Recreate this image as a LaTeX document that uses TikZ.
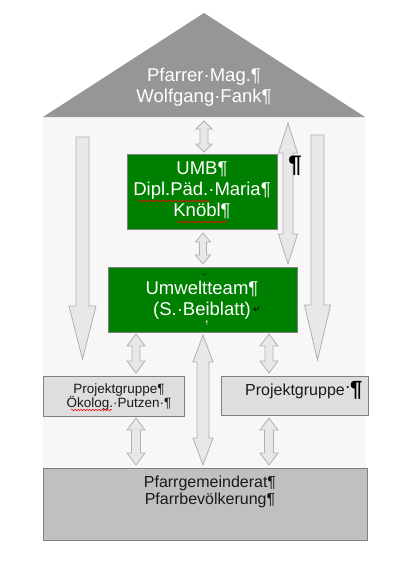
\documentclass[tikz,border=0pt]{standalone}
\usepackage{fontspec}
\setmainfont{Liberation Sans}
\newfontfamily\dejavu{DejaVu Sans}
\usetikzlibrary{decorations.pathmorphing}
\definecolor{roofgray}{HTML}{969696}
\definecolor{bodygray}{HTML}{F7F7F7}
\definecolor{umbgreen}{HTML}{008000}
\definecolor{edgegray}{HTML}{808080}
\definecolor{arrfill}{HTML}{E8E8E8}
\definecolor{arredge}{HTML}{B0B0B0}
\definecolor{pgfill}{HTML}{DEDEDE}
\definecolor{basefill}{HTML}{C0C0C0}
\definecolor{txtdark}{HTML}{1A1A1A}
\newcommand\dbarr[6]{% cx, ytop, ybot, half shaft, half head, head length
  \draw[arr] (#1-#4,#2+#6) -- (#1-#5,#2+#6) -- (#1,#2) -- (#1+#5,#2+#6) -- (#1+#4,#2+#6)
    -- (#1+#4,#3-#6) -- (#1+#5,#3-#6) -- (#1,#3) -- (#1-#5,#3-#6) -- (#1-#4,#3-#6) -- cycle;}
\newcommand\dnarr[6]{% cx, ytop, ytip, half shaft, half head, head length
  \draw[arr] (#1-#4,#2) -- (#1+#4,#2) -- (#1+#4,#3-#6) -- (#1+#5,#3-#6) -- (#1,#3)
    -- (#1-#5,#3-#6) -- (#1-#4,#3-#6) -- cycle;}
\begin{document}
\begin{tikzpicture}[x=1pt,y=-1pt,
  arr/.style={fill=arrfill,draw=arredge,line width=0.8pt,line join=miter},
  greenbox/.style={draw=edgegray,fill=umbgreen,line width=0.8pt,inner sep=0pt},
  pgbox/.style={draw=edgegray,fill=pgfill,line width=0.8pt,inner sep=0pt},
  basebox/.style={draw=edgegray,fill=basefill,line width=0.8pt,inner sep=0pt},
  bigwhite/.style={text=white,align=center,inner sep=0pt,font=\fontsize{18.5}{21}\selectfont},
  darktxt/.style={text=txtdark,align=center,inner sep=0pt},
  spell/.style={draw=red,line width=0.5pt,decorate,decoration={snake,amplitude=0.7pt,segment length=3pt}},
  fmtmark/.style={text=black,inner sep=0pt}]
\useasboundingbox (0,0) rectangle (409,568);
\fill[white] (0,0) rectangle (409,568);
% house body and roof
\fill[bodygray] (43,117) rectangle (366,468);
\fill[roofgray] (43,117) -- (204,13) -- (365,117) -- cycle;
\node[bigwhite] (rooftxt) at (204,87) {Pfarrer·Mag.¶\\Wolfgang·Fank¶};
% boxes
\node[greenbox,minimum width=150pt,minimum height=75pt] (umb) at (202,191.5) {};
\node[greenbox,minimum width=189pt,minimum height=65pt] (team) at (202.5,299.5) {};
\node[pgbox,minimum width=141pt,minimum height=40pt] (pgl) at (113.5,396) {};
\node[pgbox,minimum width=147pt,minimum height=39pt] (pgr) at (294.5,395.5) {};
\node[basebox,minimum width=324pt,minimum height=72pt] (base) at (205,504) {};
% big down arrows
\dnarr{82.5}{137}{359}{6.5}{13.5}{53}
\dnarr{317.5}{135}{360}{6.5}{13}{55}
% double arrows
\dbarr{204}{121}{152}{4}{8}{8}
\dbarr{203}{233}{264}{3.5}{7.5}{9}
\dbarr{288}{123}{264}{5}{9.5}{30}
\dbarr{136}{334}{373}{4}{9}{12}
\dbarr{269}{334}{373}{4}{9}{12}
\dbarr{203}{335}{465}{6}{10}{27}
\dbarr{136}{418}{465}{4.5}{9}{12}
\dbarr{269}{418}{465}{4.5}{9}{12}
% texts
\node[bigwhite] (umbtxt) at (umb) [yshift=1pt] {UMB¶\\Dipl.Päd.·Maria¶\\Knöbl¶};
\node[bigwhite] (teamtxt) at (202,300) {Umweltteam¶\\(S.·Beiblatt)};
\node[fmtmark,font=\dejavu\fontsize{9}{9}\selectfont] (ret) at (257,310) {↵};
\node[fmtmark,font=\dejavu\fontsize{5}{5}\selectfont] (ret2) at (205,275) {↵};
\node[fmtmark,text=white,font=\fontsize{5}{5}\selectfont] (pil2) at (207,323) {¶};
\node[darktxt,font=\fontsize{13.5}{14.5}\selectfont] (pgltxt) at (119,397) {Projektgruppe¶\\ Ökolog.·Putzen·¶};
\node[darktxt,font=\fontsize{16}{17}\selectfont] (pgrtxt) at (295,391) {Projektgruppe};
\node[fmtmark,font=\bfseries\fontsize{22}{22}\selectfont,anchor=west] (pgrmark) at (pgrtxt.east) [xshift=1pt,yshift=1pt] {\raisebox{5pt}{\fontsize{12}{12}\selectfont·}¶};
\node[fmtmark,font=\bfseries\fontsize{24}{24}\selectfont] (bigpil) at (295,166) {¶};
\node[darktxt,font=\fontsize{16}{17}\selectfont] (basetxt) at (210,491.5) {Pfarrgemeinderat¶\\Pfarrbevölkerung¶};
% spell-check underlines
\draw[spell] (138,201) -- (210,201);
\draw[spell] (177,222) -- (227,222);
\draw[spell] (71,410) -- (112,410);
\end{tikzpicture}
\end{document}
